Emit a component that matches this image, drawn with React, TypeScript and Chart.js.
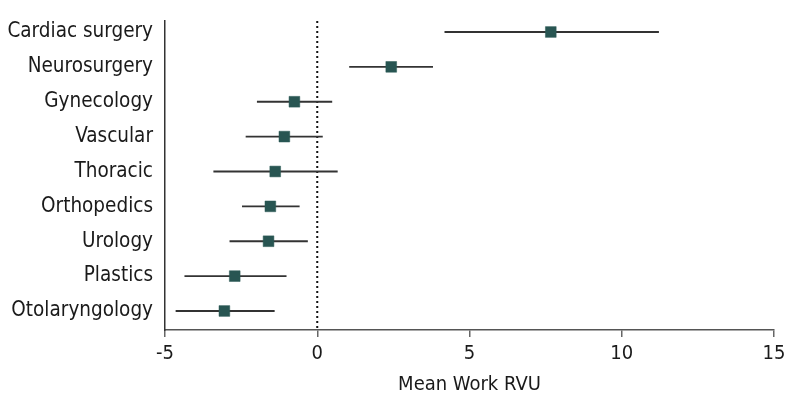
import React, { useEffect, useRef } from "react";
import { Chart, registerables } from "chart.js";

Chart.register(...registerables);

const categories = [
  "Cardiac surgery",
  "Neurosurgery",
  "Gynecology",
  "Vascular",
  "Thoracic",
  "Orthopedics",
  "Urology",
  "Plastics",
  "Otolaryngology",
];
const means = [7.67, 2.43, -0.75, -1.08, -1.38, -1.54, -1.6, -2.71, -3.05];
const lower = [4.19, 1.06, -1.97, -2.34, -3.4, -2.46, -2.87, -4.35, -4.64];
const upper = [11.21, 3.79, 0.48, 0.17, 0.66, -0.59, -0.32, -1.02, -1.41];
const xTicks = [-5, 0, 5, 10, 15];
const xTitle = "Mean Work RVU";

const FONT = "'Liberation Sans Narrow', 'DejaVu Sans Condensed', 'Open Sans', sans-serif";

export default function App() {
  const ref = useRef<HTMLCanvasElement | null>(null);
  useEffect(() => {
    if (!ref.current) return;
    const chart = new Chart(ref.current, {
      type: "bar",
      data: {
        datasets: [
          {
            type: "bar",
            data: categories.map((_, i) => ({ y: i, x: [lower[i], upper[i]] })) as any,
            backgroundColor: "#333333",
            borderWidth: 0,
            barThickness: 1.3,
            order: 2,
          } as any,
          {
            type: "line",
            data: [
              { x: 0, y: -0.315 },
              { x: 0, y: 8.545 },
            ],
            borderColor: "#111111",
            borderWidth: 2,
            borderDash: [2, 3],
            pointRadius: 0,
            order: 3,
          } as any,
          {
            type: "scatter",
            data: categories.map((_, i) => ({ x: means[i], y: i })),
            pointStyle: "rect",
            pointRadius: 7.6,
            backgroundColor: "#285552",
            borderColor: "#2d5a57",
            borderWidth: 0.5,
            order: 1,
          } as any,
        ],
      },
      options: {
        animation: false,
        responsive: true,
        maintainAspectRatio: false,
        indexAxis: "y",
        layout: { padding: { top: 13, right: 12, left: 0, bottom: 11 } },
        plugins: { legend: { display: false }, tooltip: { enabled: false } },
        scales: {
          x: {
            type: "linear",
            min: -5,
            max: 15,
            afterBuildTicks: (s: any) => {
              s.ticks = xTicks.map((v) => ({ value: v }));
            },
            afterFit: (s: any) => {
              s.height = 67;
              s.paddingLeft = 0;
              s.paddingRight = 0;
            },
            grid: {
              display: true,
              drawOnChartArea: false,
              drawTicks: true,
              tickLength: 7,
              color: "#666666",
              lineWidth: 1.5,
            },
            border: { display: true, color: "#555555", width: 1.5 },
            ticks: {
              color: "#1a1a1a",
              font: { family: FONT, size: 20 },
              padding: 5,
              autoSkip: false,
              maxRotation: 0,
            },
            title: {
              display: true,
              text: xTitle,
              color: "#1a1a1a",
              font: { family: FONT, size: 20 },
              padding: { top: 4, bottom: 0 },
            },
          },
          y: {
            type: "linear",
            reverse: true,
            offset: false,
            min: -0.315,
            max: 8.545,
            afterBuildTicks: (s: any) => {
              s.ticks = categories.map((_, i) => ({ value: i }));
            },
            afterFit: (s: any) => {
              s.width = 157;
              s.paddingTop = 0;
              s.paddingBottom = 0;
            },
            grid: { display: false, drawTicks: false },
            border: { display: true, color: "#333333", width: 1.5 },
            ticks: {
              color: "#1a1a1a",
              font: { family: FONT, size: 20.5 },
              padding: 12,
              autoSkip: false,
              callback: (v: any) => categories[v as number] ?? "",
            },
          },
        },
      },
    });
    return () => chart.destroy();
  }, []);
  return (
    <div style={{ position: "relative", width: "100%", height: 400 }}>
      <canvas ref={ref} />
    </div>
  );
}
